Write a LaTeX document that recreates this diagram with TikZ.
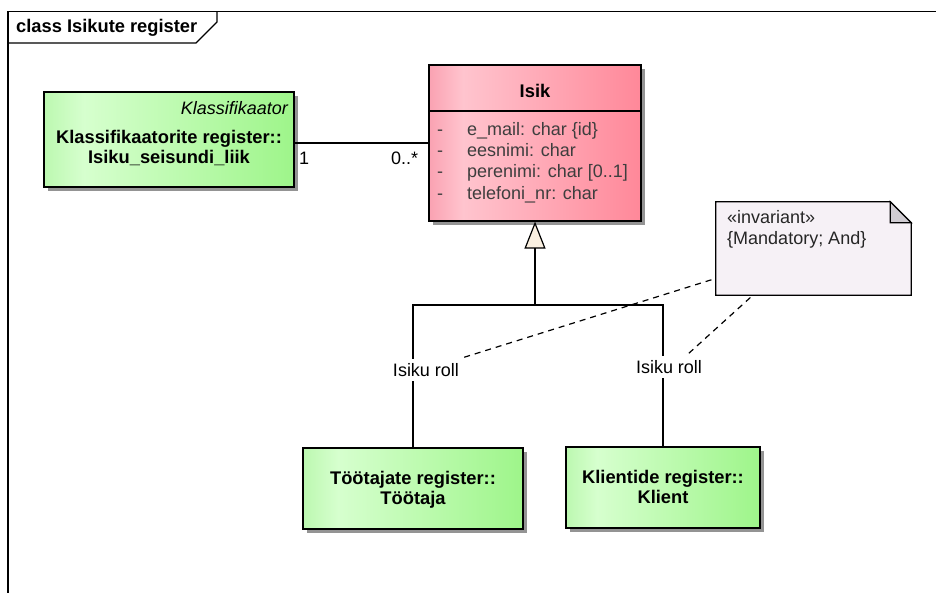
\documentclass[tikz,border=0pt]{standalone}
\usepackage{fontspec}
\setmainfont{Liberation Sans}
\usetikzlibrary{arrows.meta,calc,shadows}

% palette
\definecolor{gA}{RGB}{188,248,176}
\definecolor{gB}{RGB}{214,255,206}
\definecolor{gC}{RGB}{158,245,138}
\definecolor{pA}{RGB}{250,162,178}
\definecolor{pB}{RGB}{255,196,206}
\definecolor{pC}{RGB}{255,136,153}
\definecolor{notefill}{RGB}{246,241,246}
\definecolor{foldfill}{RGB}{208,204,210}
\definecolor{genfill}{RGB}{250,240,225}
\definecolor{attrtext}{RGB}{62,62,62}

% class box fills: darker left edge, light band, saturated right side
\pgfdeclarehorizontalshading{greenfill}{100bp}{color(0bp)=(gA); color(25bp)=(gA); color(33bp)=(gB); color(75bp)=(gC); color(100bp)=(gC)}
\pgfdeclarehorizontalshading{pinkfill}{100bp}{color(0bp)=(pA); color(25bp)=(pA); color(33bp)=(pB); color(75bp)=(pC); color(100bp)=(pC)}

\tikzset{
  every node/.style={inner sep=0pt, font=\fontsize{18}{21}\selectfont},
  bf/.style={font=\fontsize{18.3}{20}\selectfont\bfseries},
  classbox/.style={draw, line width=1.2pt,
    drop shadow={shadow xshift=4pt, shadow yshift=-4pt, fill=black!42, opacity=1}},
  greenbox/.style={classbox, shading=greenfill},
  pinkbox/.style={classbox, shading=pinkfill},
  attr/.style={anchor=base west, text=attrtext},
  conn/.style={line width=1.2pt},
  gen/.style={conn, -{Triangle[length=27pt, width=21pt, fill=genfill]}},
  anchorline/.style={line width=1.2pt, dash pattern=on 6pt off 5pt},
  rolllabel/.style={fill=white, inner xsep=1pt, inner ysep=4pt, anchor=base},
  notebox/.style={draw, line width=1.2pt, fill=notefill},
}

\begin{document}
\begin{tikzpicture}[x=1pt, y=-1pt]
\useasboundingbox (0,0) rectangle (936,593);

% diagram frame with its name tab
\draw[line width=1.3pt] (8,593) -- (8,11.5) -- (936,11.5);
\draw[line width=1.3pt] (8,43) -- (196,43) -- (217,22) -- (217,11.5);
\node[bf, anchor=base west] (frametitle) at (16,33) {class Isikute register};

% classes (multi-line names are anchored on their last baseline)
\node[greenbox, minimum width=250pt, minimum height=95pt] (klass) at (169,139.5) {};
\node[anchor=base east, font=\fontsize{18}{21}\selectfont\itshape] (klassstereo) at (288,115) {Klassifikaator};
\node[bf, align=center, anchor=base] (klassname) at (169,163.5) {Klassifikaatorite register::\\Isiku\_seisundi\_liik};

\node[pinkbox, minimum width=212pt, minimum height=156pt] (isik) at (535,143) {};
\draw[conn] (isik.west |- 0,111) -- (isik.east |- 0,111);
\node[bf, anchor=base] (isikname) at (535,98) {Isik};
\foreach \y/\txt [count=\i] in {136/{e\_mail: char \{id\}}, 157/{eesnimi: char}, 178/{perenimi: char [0..1]}, 199.5/{telefoni\_nr: char}} {
  \node[attr] (vis\i) at (437,\y) {-};
  \node[attr] (att\i) at (467,\y) {\txt};
}

\node[greenbox, minimum width=220pt, minimum height=81pt] (toot) at (413,488.5) {};
\node[bf, align=center, anchor=base] (tootname) at (413,504) {Töötajate register::\\Töötaja};

\node[greenbox, minimum width=194pt, minimum height=81pt] (klient) at (663,487.5) {};
\node[bf, align=center, anchor=base] (klientname) at (663,503) {Klientide register::\\Klient};

% association with multiplicities
\draw[conn] (klass.east |- isik.west) -- (isik.west);
\node[anchor=base west] (multA) at (299,165) {1};
\node[anchor=base west] (multB) at (391,165) {0..*};

% generalization tree
\coordinate (gj) at (535,305);
\draw[gen] (gj) -- (isik.south);
\draw[conn] (toot.north) |- (gj) -| (klient.north);
\node[rolllabel] (roll1) at (426,376.5) {Isiku roll};
\node[rolllabel] (roll2) at (669,373.5) {Isiku roll};

% constraint note
\node[minimum width=195pt, minimum height=93pt] (note) at (813.5,248.5) {};
\filldraw[notebox] (note.north west) -- ($(note.north east)+(-21,0)$) -- ($(note.north east)+(0,21)$)
  -- (note.south east) -- (note.south west) -- cycle;
\filldraw[notebox, fill=foldfill] ($(note.north east)+(-21,0)$) -- ($(note.north east)+(-21,21)$)
  -- ($(note.north east)+(0,21)$) -- cycle;
\node[anchor=base west, text=black!85] (notetext1) at (727,223.5) {«invariant»};
\node[anchor=base west, text=black!85] (notetext2) at (727,245) {\{Mandatory; And\}};

\draw[anchorline] ($(roll1.north east)+(4,-2)$) -- ($(note.south west)!0.18!(note.north west)$);
\draw[anchorline] ($(roll2.north)!0.58!(roll2.north east)+(0,-3)$) -- ($(note.south west)!0.19!(note.south east)$);
\end{tikzpicture}
\end{document}
